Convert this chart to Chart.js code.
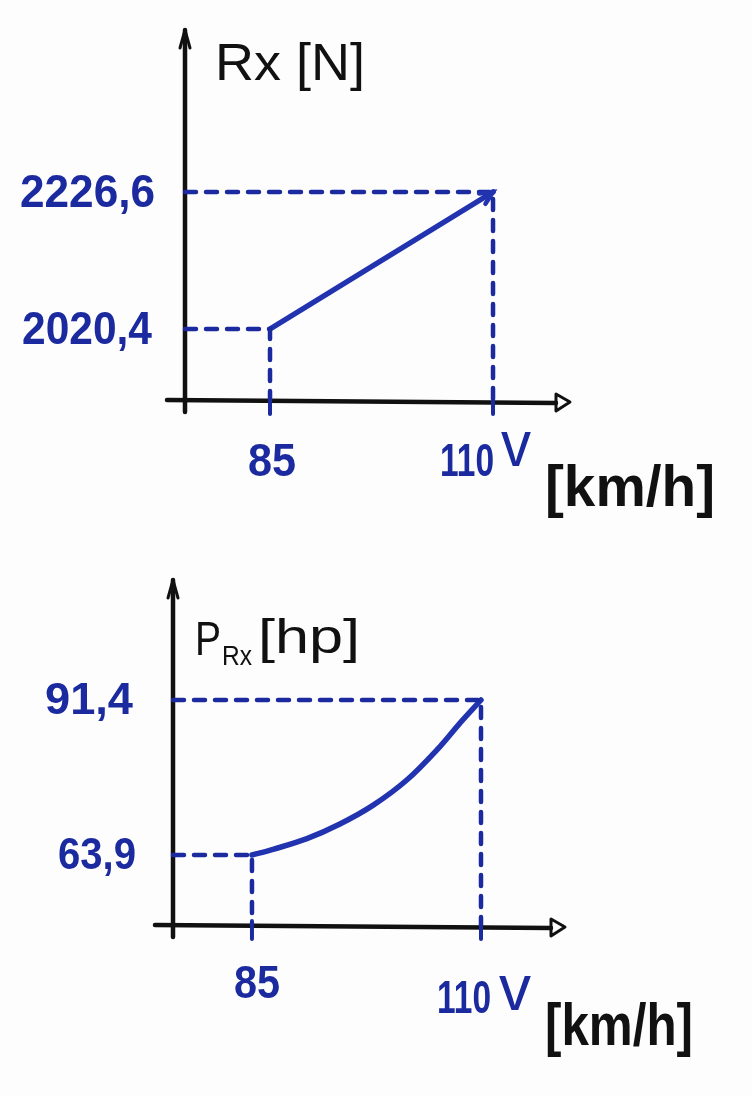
<!DOCTYPE html>
<html>
<head>
<meta charset="utf-8">
<script src="https://cdn.jsdelivr.net/npm/chart.js@4.4.1/dist/chart.umd.min.js"></script>
<style>
  html, body { margin: 0; padding: 0; background: #fdfdfd; }
  #wrap { position: relative; width: 752px; height: 1096px; }
  canvas { position: absolute; left: 0; }
</style>
</head>
<body>
<div id="wrap">
  <canvas id="c1" width="752" height="548" style="top:0"></canvas>
  <canvas id="c2" width="752" height="548" style="top:548px"></canvas>
</div>
<script>
// ---- data ----
const rxSpeeds = [85, 110];                 // v [km/h]
const rxForceN = [2020.4, 2226.6];          // Rx [N]
const pSpeeds = [85, 87.3, 91.0, 94.6, 98.2, 101.9, 105.5, 107.7, 110];
const pPowerHp = [63.9, 64.9, 66.8, 69.4, 72.7, 77.2, 83.1, 87.3, 91.4];
const xTickValues = [85, 110];
const xTickLabels = ['85', '110'];
const rxTickValues = [2226.6, 2020.4];
const rxTickLabels = ['2226,6', '2020,4'];
const pTickValues = [91.4, 63.9];
const pTickLabels = ['91,4', '63,9'];

const BLUE = '#1b2a9e';
const LINE = '#2233b0';
const INK = '#111111';
const FONT = '"Liberation Sans", Arial, sans-serif';

function fitText(ctx, text, left, cy, w, px, color, weight) {
  ctx.save();
  ctx.font = (weight || 'bold') + ' ' + px + 'px ' + FONT;
  ctx.fillStyle = color;
  ctx.textBaseline = 'middle';
  ctx.textAlign = 'left';
  const m = ctx.measureText(text).width;
  ctx.translate(left, cy);
  ctx.scale(w / m, 1);
  ctx.fillText(text, 0, 0);
  ctx.restore();
}

function drawAxes(ctx, a) {
  ctx.save();
  ctx.strokeStyle = INK;
  ctx.lineWidth = 4.5;
  ctx.lineCap = 'round';
  ctx.lineJoin = 'round';
  ctx.beginPath();
  ctx.moveTo(a.left, a.bottom + 12);
  ctx.lineTo(a.left, a.top);
  ctx.stroke();
  ctx.lineWidth = 3;
  ctx.beginPath();
  ctx.moveTo(a.left - 5, a.top + 18);
  ctx.lineTo(a.left, a.top);
  ctx.lineTo(a.left + 5, a.top + 18);
  ctx.stroke();
  ctx.lineWidth = 4.5;
  ctx.beginPath();
  ctx.moveTo(a.left - 18, a.bottom);
  ctx.lineTo(a.right - 14, a.bottom + 3);
  ctx.stroke();
  ctx.lineWidth = 3;
  ctx.beginPath();
  ctx.moveTo(a.right - 14, a.bottom - 6);
  ctx.lineTo(a.right, a.bottom + 2);
  ctx.lineTo(a.right - 14, a.bottom + 11);
  ctx.closePath();
  ctx.stroke();
  ctx.restore();
}

function tickStubs(chart) {
  const ctx = chart.ctx, a = chart.chartArea, xs = chart.scales.x;
  ctx.save();
  ctx.strokeStyle = BLUE;
  ctx.lineWidth = 4;
  ctx.lineCap = 'round';
  xTickValues.forEach(v => {
    const px = xs.getPixelForValue(v);
    ctx.beginPath();
    ctx.moveTo(px, a.bottom - 4);
    ctx.lineTo(px, a.bottom + 14);
    ctx.stroke();
  });
  ctx.restore();
}

function guideData(x, y, xmin, ymin) {
  return [{x: xmin, y: y}, {x: x, y: y}, {x: x, y: ymin}];
}

function guideDataset(data) {
  return {
    data: data, borderColor: BLUE, borderWidth: 4.5, borderDash: [11, 10],
    borderCapStyle: 'round', pointRadius: 0, tension: 0, fill: false, clip: false
  };
}

const baseOptions = (pad, xr, yr) => ({
  responsive: false, animation: false, devicePixelRatio: 1,
  layout: { padding: pad },
  plugins: { legend: { display: false }, tooltip: { enabled: false } },
  scales: {
    x: { type: 'linear', min: xr[0], max: xr[1], display: false },
    y: { type: 'linear', min: yr[0], max: yr[1], display: false }
  }
});

// ---- chart 1 : Rx(v) ----
const X1 = [75.47, 118.63], Y1 = [1913.5, 2470.4];
new Chart(document.getElementById('c1'), {
  type: 'line',
  data: {
    datasets: [
      guideDataset(guideData(rxSpeeds[1], rxForceN[1], X1[0], Y1[0])),
      guideDataset(guideData(rxSpeeds[0], rxForceN[0], X1[0], Y1[0])),
      {
        data: rxSpeeds.map((v, i) => ({x: v, y: rxForceN[i]})),
        borderColor: LINE, borderWidth: 5.5, borderCapStyle: 'round',
        pointRadius: 0, tension: 0, fill: false
      }
    ]
  },
  options: baseOptions({left: 185, right: 182, top: 30, bottom: 148}, X1, Y1),
  plugins: [{
    id: 'deco1',
    beforeDatasetsDraw(chart) { drawAxes(chart.ctx, chart.chartArea); },
    afterDatasetsDraw(chart) {
      const ctx = chart.ctx, xs = chart.scales.x, ys = chart.scales.y;
      tickStubs(chart);
      const x0 = xs.getPixelForValue(rxSpeeds[0]), y0 = ys.getPixelForValue(rxForceN[0]);
      const x1 = xs.getPixelForValue(rxSpeeds[1]), y1 = ys.getPixelForValue(rxForceN[1]);
      const ang = Math.atan2(y1 - y0, x1 - x0);
      ctx.save();
      ctx.strokeStyle = LINE; ctx.lineWidth = 4.5; ctx.lineCap = 'round';
      ctx.beginPath();
      ctx.moveTo(x1 - 14 * Math.cos(ang - 0.45), y1 - 14 * Math.sin(ang - 0.45));
      ctx.lineTo(x1, y1);
      ctx.lineTo(x1 - 14 * Math.cos(ang + 0.45), y1 - 14 * Math.sin(ang + 0.45));
      ctx.stroke();
      ctx.restore();
      const yl = [{l: 20, w: 135}, {l: 22, w: 130}];
      rxTickValues.forEach((v, i) => fitText(ctx, rxTickLabels[i], yl[i].l, ys.getPixelForValue(v) + 2, yl[i].w, 46, BLUE));
      xTickValues.forEach((v, i) => {
        const px = xs.getPixelForValue(v);
        const w = i === 0 ? 48 : 54;
        fitText(ctx, xTickLabels[i], px - w / 2 + (i === 0 ? 2 : -26), 463, w, 46, BLUE);
      });
      fitText(ctx, 'v', 501, 448, 30, 64, BLUE, 'normal');
      fitText(ctx, '[km/h]', 545, 490, 170, 58, INK, 'bold');
      fitText(ctx, 'Rx [N]', 215, 66, 150, 52, INK, 'normal');
    }
  }]
});

// ---- chart 2 : P_Rx(v) ----
const X2 = [76.38, 119.17], Y2 = [51.48, 112.69];
new Chart(document.getElementById('c2'), {
  type: 'line',
  data: {
    datasets: [
      guideDataset(guideData(pSpeeds[pSpeeds.length - 1], pPowerHp[pPowerHp.length - 1], X2[0], Y2[0])),
      guideDataset(guideData(pSpeeds[0], pPowerHp[0], X2[0], Y2[0])),
      {
        data: pSpeeds.map((v, i) => ({x: v, y: pPowerHp[i]})),
        borderColor: LINE, borderWidth: 5.5, borderCapStyle: 'round',
        pointRadius: 0, tension: 0.35, fill: false
      }
    ]
  },
  options: baseOptions({left: 173, right: 187, top: 32, bottom: 171}, X2, Y2),
  plugins: [{
    id: 'deco2',
    beforeDatasetsDraw(chart) { drawAxes(chart.ctx, chart.chartArea); },
    afterDatasetsDraw(chart) {
      const ctx = chart.ctx, xs = chart.scales.x, ys = chart.scales.y;
      tickStubs(chart);
      const yl = [{l: 45, w: 88}, {l: 58, w: 78}];
      pTickValues.forEach((v, i) => fitText(ctx, pTickLabels[i], yl[i].l, ys.getPixelForValue(v) + 2, yl[i].w, 44, BLUE));
      xTickValues.forEach((v, i) => {
        const px = xs.getPixelForValue(v);
        const w = i === 0 ? 46 : 54;
        fitText(ctx, xTickLabels[i], px - w / 2 + (i === 0 ? 5 : -17), (i === 0 ? 985 : 1000) - 548, w, 46, BLUE);
      });
      fitText(ctx, 'v', 499, 992 - 548, 32, 64, BLUE, 'normal');
      fitText(ctx, '[km/h]', 545, 1028 - 548, 148, 60, INK, 'bold');
      fitText(ctx, 'P', 195, 642 - 548, 26, 48, INK, 'normal');
      fitText(ctx, 'Rx', 222, 657 - 548, 30, 28, INK, 'normal');
      fitText(ctx, '[hp]', 258, 640 - 548, 102, 48, INK, 'normal');
    }
  }]
});
</script>
</body>
</html>
